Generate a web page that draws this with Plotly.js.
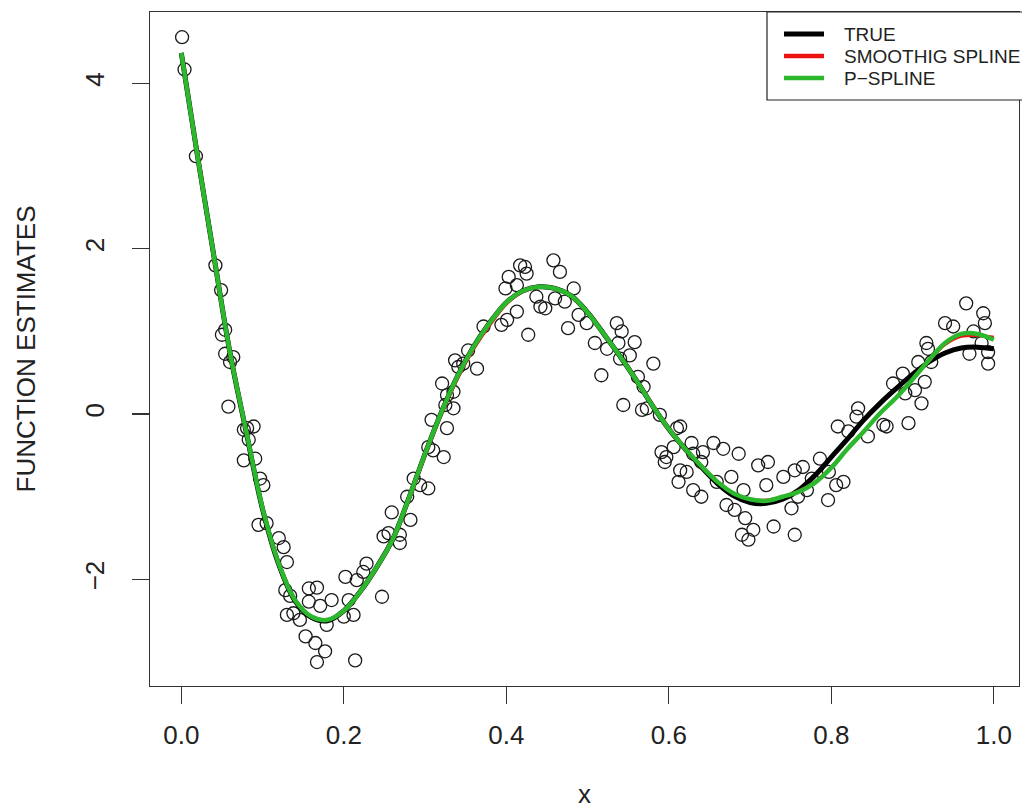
<!DOCTYPE html>
<html><head><meta charset="utf-8">
<script src="https://cdn.plot.ly/plotly-3.0.1.min.js"></script>
<style>html,body{margin:0;padding:0;background:#fff}#plot{width:1022px;height:809px}</style>
</head><body><div id="plot"></div><script>
// ---- observed data (circles) ----
const obsX = [0.001,0.004,0.018,0.042,0.049,0.054,0.050,0.054,0.064,0.060,0.058,0.081,0.089,0.077,0.083,0.077,0.091,0.097,0.101,0.095,0.105,
0.120,0.126,0.130,0.128,0.134,0.157,0.167,0.130,0.138,0.146,0.157,0.171,0.185,0.153,0.165,0.177,0.167,0.214,0.179,0.202,0.216,0.224,0.228,0.206,0.212,0.200,0.247,0.249,0.255,0.259,0.269,0.269,
0.278,0.282,0.286,0.294,0.304,0.304,0.310,0.323,0.308,0.327,0.325,0.335,0.327,0.335,0.321,0.337,0.341,0.347,0.353,0.364,0.372,0.394,0.401,0.413,0.399,0.403,0.413,0.417,0.423,0.425,0.427,
0.437,0.442,0.448,0.458,0.466,0.460,0.472,0.483,0.476,0.489,0.499,0.509,0.517,0.524,0.536,0.538,0.540,0.542,0.544,0.552,0.558,0.562,0.567,0.569,0.573,0.581,0.589,0.591,0.595,0.597,0.606,
0.610,0.612,0.614,0.614,0.622,0.628,0.630,0.630,0.640,0.640,0.642,0.655,0.659,0.667,0.671,0.677,0.681,0.686,0.690,0.692,0.694,0.698,0.704,0.710,0.720,0.722,0.729,0.741,0.751,0.755,0.755,
0.759,0.765,0.770,0.776,0.786,0.796,0.797,0.806,0.808,0.815,0.821,0.831,0.833,0.845,0.864,0.868,0.876,0.888,0.891,0.895,0.903,0.907,0.911,0.915,0.917,0.919,0.923,0.940,0.950,0.966,0.970,
0.975,0.985,0.987,0.989,0.993,0.993];
const obsY = [4.56,4.17,3.12,1.80,1.50,1.02,0.96,0.73,0.69,0.63,0.09,-0.17,-0.15,-0.19,-0.31,-0.56,-0.54,-0.78,-0.86,-1.34,-1.32,
-1.50,-1.61,-1.79,-2.13,-2.20,-2.11,-2.10,-2.43,-2.41,-2.49,-2.27,-2.32,-2.25,-2.69,-2.77,-2.87,-3.00,-2.98,-2.55,-1.97,-2.01,-1.91,-1.81,-2.25,-2.43,-2.45,-2.21,-1.48,-1.44,-1.19,-1.46,-1.56,
-1.00,-1.28,-0.78,-0.86,-0.90,-0.40,-0.44,-0.52,-0.07,-0.17,0.11,0.07,0.23,0.27,0.37,0.65,0.57,0.61,0.77,0.55,1.06,1.08,1.14,1.24,1.52,1.66,1.56,1.80,1.78,1.70,0.96,
1.42,1.30,1.28,1.86,1.72,1.40,1.36,1.52,1.04,1.20,1.10,0.86,0.47,0.79,1.10,0.86,0.67,1.00,0.11,0.71,0.87,0.45,0.05,0.33,0.07,0.61,-0.01,-0.46,-0.58,-0.52,-0.40,
-0.17,-0.82,-0.15,-0.68,-0.70,-0.35,-0.92,-0.48,-1.00,-0.58,-0.46,-0.35,-0.82,-0.42,-1.10,-0.76,-1.16,-0.48,-1.46,-0.92,-1.26,-1.52,-1.40,-0.62,-0.86,-0.58,-1.36,-0.76,-1.14,-1.46,-0.68,
-1.00,-0.64,-0.92,-0.78,-0.54,-1.04,-0.70,-0.86,-0.15,-0.82,-0.21,-0.03,0.07,-0.27,-0.13,-0.15,0.37,0.49,0.25,-0.11,0.29,0.63,0.13,0.39,0.86,0.79,0.63,1.10,1.06,1.34,0.73,
1.00,0.86,1.22,1.10,0.75,0.61];

// ---- fitted curves ----
const curveX = [0.00,0.02,0.04,0.06,0.08,0.10,0.12,0.14,0.16,0.18,0.20,0.22,0.24,0.26,0.28,0.30,0.32,0.34,0.36,0.38,0.40,0.42,0.44,0.46,0.48,0.50,
0.52,0.54,0.56,0.58,0.60,0.62,0.64,0.66,0.68,0.70,0.72,0.74,0.76,0.78,0.80,0.82,0.84,0.86,0.88,0.90,0.92,0.94,0.96,0.98,1.00];
const trueY = [4.37,3.12,1.92,0.74,-0.22,-1.15,-1.82,-2.26,-2.46,-2.50,-2.38,-2.15,-1.86,-1.52,-1.02,-0.48,0.02,0.46,0.82,1.11,1.35,1.49,1.54,1.52,1.43,1.23,
0.97,0.70,0.41,0.10,-0.18,-0.42,-0.64,-0.84,-0.99,-1.07,-1.08,-1.03,-0.92,-0.74,-0.52,-0.30,-0.07,0.13,0.31,0.48,0.63,0.74,0.80,0.81,0.79];
const smoothY = [4.36,3.11,1.91,0.73,-0.22,-1.14,-1.81,-2.25,-2.45,-2.49,-2.38,-2.15,-1.87,-1.53,-1.04,-0.50,0.00,0.43,0.79,1.08,1.33,1.48,1.54,1.52,1.43,1.23,
0.97,0.70,0.42,0.11,-0.17,-0.41,-0.63,-0.82,-0.96,-1.03,-1.04,-1.00,-0.93,-0.82,-0.64,-0.42,-0.21,0.01,0.20,0.42,0.64,0.84,0.94,0.95,0.93];
const psplineY = [4.37,3.12,1.92,0.74,-0.21,-1.14,-1.81,-2.25,-2.45,-2.49,-2.38,-2.15,-1.86,-1.52,-1.02,-0.48,0.02,0.46,0.82,1.11,1.35,1.49,1.54,1.52,1.43,1.23,
0.97,0.70,0.41,0.10,-0.18,-0.42,-0.63,-0.82,-0.96,-1.03,-1.05,-1.00,-0.94,-0.83,-0.65,-0.42,-0.21,0.01,0.20,0.42,0.65,0.86,0.97,0.97,0.90];

// ---- axis ticks ----
const xTickVals = [0,0.2,0.4,0.6,0.8,1.0];
const xTickText = ['0.0','0.2','0.4','0.6','0.8','1.0'];
const yTickVals = [-2,0,2,4];
const yTickText = ['\u22122','0','2','4'];

// ---- legend ----
const legendNames = ['TRUE','SMOOTHIG SPLINE','P\u2212SPLINE'];
const legendColors = ['#000000','#ee1111','#2cb82c'];
const legendWidths = [5,4.5,4.5];

const FONT = '"Liberation Sans", Arial, Helvetica, sans-serif';
const W = 1022, H = 809;
const M = {l:150, r:3, t:12, b:123};
const pw = W - M.l - M.r, ph = H - M.t - M.b;
const px = p => (p - M.l) / pw;
const py = q => (H - M.b - q) / ph;

const traces = [
  {x: obsX, y: obsY, type:'scatter', mode:'markers',
   marker:{symbol:'circle-open', size:13, color:'#1a1a1a', line:{width:1.3, color:'#1a1a1a'}}},
  {x: curveX, y: trueY, type:'scatter', mode:'lines',
   line:{color:legendColors[0], width:legendWidths[0], shape:'spline', smoothing:1}},
  {x: curveX, y: smoothY, type:'scatter', mode:'lines',
   line:{color:legendColors[1], width:3, shape:'spline', smoothing:1}},
  {x: curveX, y: psplineY, type:'scatter', mode:'lines',
   line:{color:legendColors[2], width:4.5, shape:'spline', smoothing:1}}
];

const shapes = [{type:'rect', xref:'paper', yref:'paper', layer:'above',
  x0:px(767), x1:px(1200), y0:py(100), y1:py(12), line:{color:'#222', width:1.2}, fillcolor:'#fff'}];
const annotations = [];
const rowsY = [34, 56, 78];
legendNames.forEach((name, i) => {
  shapes.push({type:'line', xref:'paper', yref:'paper', layer:'above',
    x0:px(784), x1:px(824), y0:py(rowsY[i]), y1:py(rowsY[i]),
    line:{color:legendColors[i], width:legendWidths[i]}});
  annotations.push({xref:'paper', yref:'paper', x:px(842), y:py(rowsY[i]), xanchor:'left', yanchor:'middle',
    text:name, showarrow:false, font:{family:FONT, size:19, color:'#222'}});
});

const axisCommon = {showgrid:false, zeroline:false, showline:true, mirror:true, linecolor:'#333', linewidth:1.3,
  ticks:'outside', ticklen:17, tickwidth:1.3, tickcolor:'#333', tickfont:{family:FONT, size:26, color:'#222'}};

const layout = {
  width:W, height:H, margin:M, paper_bgcolor:'#fff', plot_bgcolor:'#fff', showlegend:false,
  font:{family:FONT, color:'#222'},
  xaxis: Object.assign({}, axisCommon, {range:[-0.0385,1.031], tickmode:'array', tickvals:xTickVals, ticktext:xTickText,
    ticklabelstandoff:8, title:{text:'x', font:{family:FONT, size:26, color:'#222'}, standoff:42}}),
  yaxis: Object.assign({}, axisCommon, {range:[-3.29,4.865], tickmode:'array', tickvals:yTickVals, ticktext:yTickText,
    tickangle:-90, ticklabelstandoff:17, title:{text:'FUNCTION ESTIMATES', font:{family:FONT, size:26, color:'#222'}, standoff:37}}),
  shapes: shapes, annotations: annotations
};
Plotly.newPlot('plot', traces, layout, {staticPlot:true, displayModeBar:false});
</script></body></html>
